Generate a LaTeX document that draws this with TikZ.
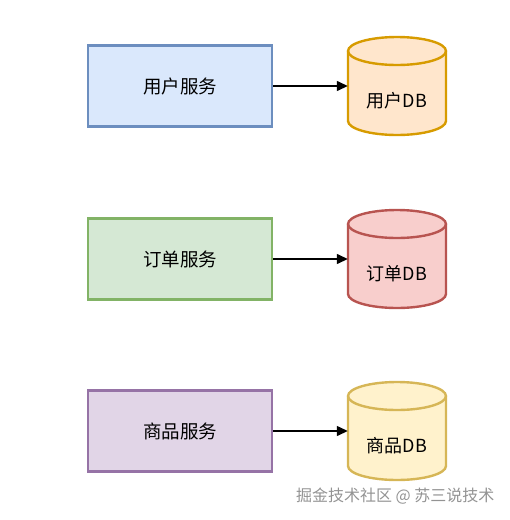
\documentclass[tikz,border=0pt]{standalone}
\usepackage{fontspec}
\setmainfont{Noto Sans CJK SC}
\usepackage{xcolor}
\usetikzlibrary{shapes, arrows.meta, positioning, calc}
\definecolor{blueFill}{HTML}{DAE8FC}
\definecolor{blueLine}{HTML}{6C8EBF}
\definecolor{greenFill}{HTML}{D5E8D4}
\definecolor{greenLine}{HTML}{82B366}
\definecolor{purpleFill}{HTML}{E1D5E7}
\definecolor{purpleLine}{HTML}{9673A6}
\definecolor{orangeFill}{HTML}{FFE6CC}
\definecolor{orangeLine}{HTML}{D79B00}
\definecolor{redFill}{HTML}{F8CECC}
\definecolor{redLine}{HTML}{B85450}
\definecolor{yellowFill}{HTML}{FFF2CC}
\definecolor{yellowLine}{HTML}{D6B656}
\tikzset{
	service/.style={draw, line width=2.4pt, minimum width=184pt, minimum height=81pt, inner sep=0pt, font=\fontsize{18.5}{18.5}\selectfont},
	store/.style={minimum width=98pt, minimum height=98pt, inner sep=0pt},
	dbtext/.style={font=\fontsize{18}{18}\selectfont},
	link/.style={line width=1.4pt, -{Triangle[length=11pt, width=10pt]}}
}
% cylinder: name, x, y, fill, line, text
\newcommand{\dbstore}[6]{
	\node[store] (#1) at (#2,#3) {};
	\draw[line width=2.4pt, fill=#4, draw=#5] ($(#1)+(-49,-35)$) -- ($(#1)+(-49,35)$)
		arc (180:0:49 and 14) -- ($(#1)+(49,-35)$) arc (0:-180:49 and 14) -- cycle;
	\draw[line width=2.4pt, draw=#5] ($(#1)+(-49,-35)$) arc (180:0:49 and 14);
	\node[dbtext] (#1t) at ([yshift=-15pt]#1.center) {#6};
}

\begin{document}
\begin{tikzpicture}[x=1pt, y=-1pt]
	\useasboundingbox (0,0) rectangle (510,520);
	\node[service, fill=blueFill, draw=blueLine] (s1) at (180,86) {用户服务};
	\node[service, fill=greenFill, draw=greenLine] (s2) at (180,259) {订单服务};
	\node[service, fill=purpleFill, draw=purpleLine] (s3) at (180,431) {商品服务};
	
	\dbstore{d1}{397}{86}{orangeFill}{orangeLine}{用户DB}
	\dbstore{d2}{397}{259}{redFill}{redLine}{订单DB}
	\dbstore{d3}{397}{431}{yellowFill}{yellowLine}{商品DB}
	
	\draw[link] (s1.east) -- (d1.west);
	\draw[link] (s2.east) -- (d2.west);
	\draw[link] (s3.east) -- (d3.west);
	
	\node[text=gray!85, font=\fontsize{16}{16}\selectfont, anchor=east] (mark) at (498,496) {掘金技术社区 @ 苏三说技术};
\end{tikzpicture}
\end{document}
